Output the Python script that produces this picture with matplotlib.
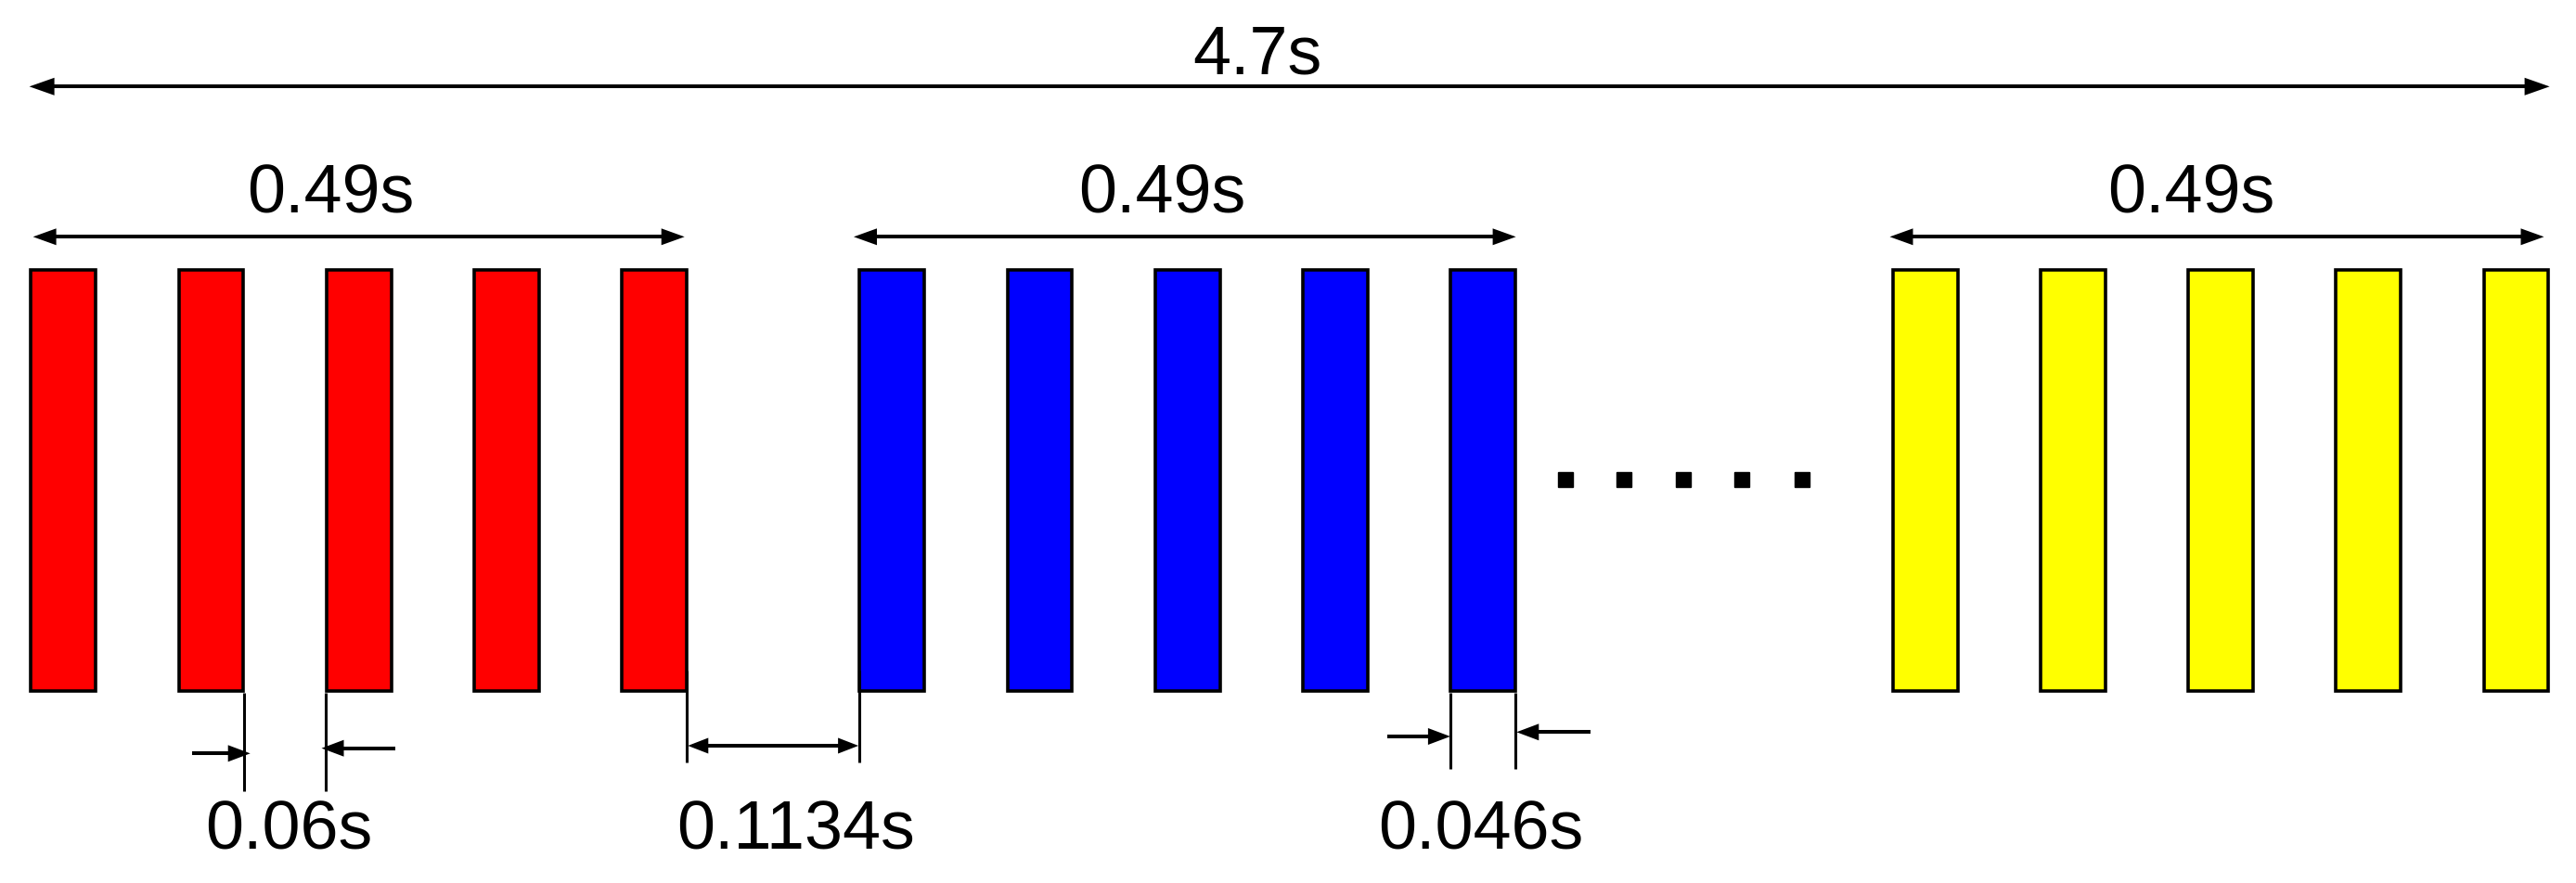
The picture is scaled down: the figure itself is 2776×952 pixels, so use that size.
import matplotlib.pyplot as plt
from matplotlib.patches import Rectangle, Polygon

plt.rcParams["font.family"] = ["Liberation Sans", "DejaVu Sans"]

# schematic layout, in picture pixels (x to the right, y downwards)
group_colors = ["#ff0000", "#0000ff", "#ffff00"]
group_starts = [31.6, 924.6, 2038.0]
bars_per_group = 5
bar_pitch = 159.2
bar_width = 73.4
bar_top, bar_bottom = 289.3, 746.7

total_label = "4.7s"
group_label = "0.49s"
group_label_x = [356, 1252, 2361]
group_span_x = [(35.6, 737.7), (920.0, 1633.6), (2036.5, 2741.5)]
gap_labels = ["0.06s", "0.1134s", "0.046s"]
gap_label_x = [311, 858, 1596]
dots_x = [1687, 1750, 1814, 1877.5, 1942]

W, H = 2776, 952
fig = plt.figure(figsize=(W / 100, H / 100), dpi=100)
ax = fig.add_axes([0, 0, 1, 1])
ax.set_xlim(0, W)
ax.set_ylim(H, 0)
ax.axis("off")

for color, x0 in zip(group_colors, group_starts):
    for i in range(bars_per_group):
        x = x0 + i * bar_pitch
        ax.add_patch(Rectangle((x + 1.8, bar_top + 1.8), bar_width - 3.6,
                               bar_bottom - bar_top - 3.6, facecolor=color,
                               edgecolor="black", lw=2.6, joinstyle="miter"))


def head(tip, y, d, length, half):
    # d = +1 points right, -1 points left
    base = tip - d * length
    ax.add_patch(Polygon([(tip, y), (base, y - half), (base, y + half)],
                         closed=True, facecolor="black", lw=0))


def arrow(x_from, x_to, y, both=False, length=24, half=9, lw=2.9):
    d = 1 if x_to > x_from else -1
    start = x_from + d * length * 0.5 if both else x_from
    ax.plot([start, x_to - d * length * 0.5], [y, y], color="black",
            lw=lw, solid_capstyle="butt")
    head(x_to, y, d, length, half)
    if both:
        head(x_from, y, -d, length, half)


def vline(x, y1, y2):
    ax.plot([x, x], [y1, y2], color="black", lw=2.2, solid_capstyle="butt")


fs = 53
# total span
arrow(31.6, 2747.6, 93.3, both=True, length=27, half=9.5)
ax.text(1355, 80, total_label, fontsize=fs, ha="center", va="baseline")

# group spans
for (x1, x2), lx in zip(group_span_x, group_label_x):
    arrow(x1, x2, 255.3, both=True, length=25, half=9)
    ax.text(lx, 230, group_label, fontsize=fs, ha="center", va="baseline")

# dots between groups
ax.plot(dots_x, [517] * len(dots_x), ls="none", marker="s", ms=11.5,
        color="black")

# gap between bars inside a group
gx1 = group_starts[0] + bar_pitch + bar_width - 1.5
gx2 = group_starts[0] + 2 * bar_pitch + 1.5
vline(gx1, bar_bottom, 853)
vline(gx2, bar_bottom, 853)
arrow(207, gx1 + 7, 812.3)
arrow(426, gx2 - 5, 806.7)

# gap between groups
hx1 = group_starts[0] + 4 * bar_pitch + bar_width - 1.5
hx2 = group_starts[1] + 1.5
vline(hx1, 723, 822)
vline(hx2, 723, 822)
arrow(hx1 + 1, hx2 - 1, 804, both=True, length=22, half=8.5)

# bar width
bx1 = group_starts[1] + 4 * bar_pitch + 1.5
bx2 = group_starts[1] + 4 * bar_pitch + bar_width - 1.5
vline(bx1, bar_bottom, 829)
vline(bx2, bar_bottom, 829)
arrow(1495, bx1, 794)
arrow(1714, bx2 + 1, 789.3)

for lbl, lx in zip(gap_labels, gap_label_x):
    ax.text(lx, 915, lbl, fontsize=fs, ha="center", va="baseline")

fig.savefig("out.png", dpi=100, facecolor="white")
